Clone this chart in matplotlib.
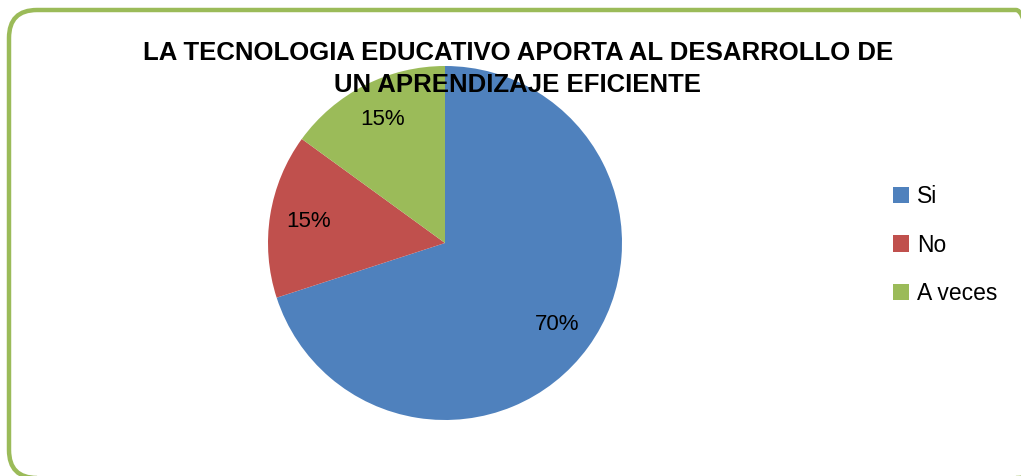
import matplotlib
matplotlib.use("Agg")
import matplotlib.pyplot as plt
from matplotlib.patches import FancyBboxPatch, Patch

categories = ["Si", "No", "A veces"]
values = [70, 15, 15]
colors = ["#4F81BD", "#C0504D", "#9BBB59"]
title = "LA TECNOLOGIA EDUCATIVO APORTA AL DESARROLLO DE\nUN APRENDIZAJE EFICIENTE"

plt.rcParams['font.family'] = ['Liberation Sans', 'DejaVu Sans']

fig = plt.figure(figsize=(10.21, 4.76), dpi=100)

# border frame in pixel coordinates (y measured from bottom)
bg = fig.add_axes([0, 0, 1, 1])
bg.set_xlim(0, 1021)
bg.set_ylim(0, 476)
bg.axis('off')
frame = FancyBboxPatch((9, -2), 1035, 468,
                       boxstyle="round,pad=0,rounding_size=28",
                       fill=False, edgecolor="#9BBB59", linewidth=3.2)
bg.add_patch(frame)

ax = fig.add_axes([268 / 1021, (476 - 420) / 476, 354 / 1021, 354 / 476])
wedges, texts, autotexts = ax.pie(values, colors=colors, startangle=90,
                                  counterclock=False, autopct='%1.0f%%',
                                  pctdistance=0.78,
                                  textprops={'fontsize': 16, 'color': 'black'})
ax.set_xlim(-1, 1)
ax.set_ylim(-1, 1)
ax.set_aspect('equal')

fig.text(518 / 1021, 1 - 69 / 476, title, ha='center', va='center',
         fontsize=18.5, fontweight='bold', linespacing=1.45)

handles = [Patch(facecolor=c, edgecolor='none') for c in colors]
fig.legend(handles, categories, loc='center left',
           bbox_to_anchor=(872 / 1021, 1 - 245 / 476), frameon=False,
           fontsize=16.5, handlelength=0.72, handleheight=0.72,
           labelspacing=1.12, handletextpad=0.35)

fig.savefig("out.png", dpi=100)
